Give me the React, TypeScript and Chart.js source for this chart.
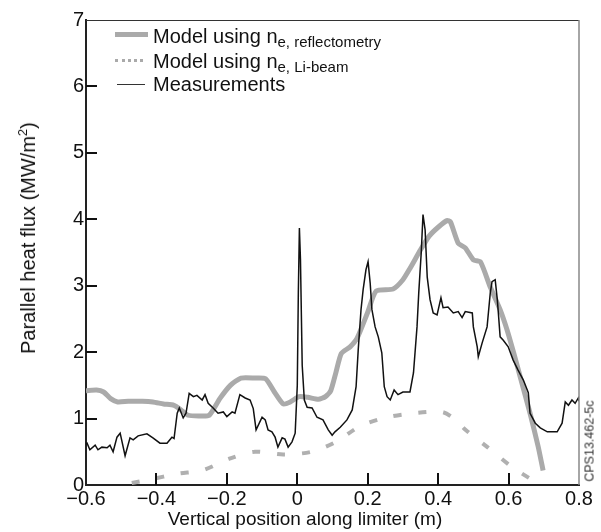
import React, { useEffect, useRef } from "react";
import { Chart, registerables } from "chart.js";

Chart.register(...registerables);

const FONT = "'Liberation Sans', Arial, Helvetica, sans-serif";

// x tick values and y tick values
const xTicks = [-0.6, -0.4, -0.2, 0, 0.2, 0.4, 0.6, 0.8];
const yTicks = [0, 1, 2, 3, 4, 5, 6, 7];

// Model using n_e, reflectometry
const reflX = [-0.6, -0.57, -0.55, -0.53, -0.51, -0.48, -0.44, -0.41, -0.38, -0.35, -0.33, -0.31, -0.28, -0.25, -0.22, -0.19, -0.16, -0.12, -0.09, -0.065, -0.04, -0.02, 0.005, 0.03, 0.06, 0.08, 0.095, 0.11, 0.125, 0.15, 0.17, 0.2, 0.224, 0.272, 0.3, 0.32, 0.35, 0.375, 0.4, 0.425, 0.435, 0.457, 0.477, 0.5, 0.52, 0.548, 0.576, 0.596, 0.615, 0.633, 0.661, 0.684, 0.698];
const reflY = [1.42, 1.43, 1.4, 1.3, 1.25, 1.26, 1.26, 1.25, 1.22, 1.2, 1.13, 1.05, 1.04, 1.05, 1.3, 1.5, 1.61, 1.61, 1.6, 1.4, 1.22, 1.25, 1.33, 1.32, 1.29, 1.33, 1.42, 1.7, 1.98, 2.08, 2.21, 2.6, 2.92, 2.95, 3.09, 3.26, 3.54, 3.75, 3.88, 3.98, 3.96, 3.64, 3.57, 3.39, 3.36, 2.98, 2.64, 2.33, 1.98, 1.63, 1.08, 0.58, 0.22];

// Model using n_e, Li-beam
const liX = [-0.47, -0.42, -0.34, -0.27, -0.19, -0.12, -0.04, 0.04, 0.11, 0.18, 0.255, 0.33, 0.41, 0.44, 0.48, 0.54, 0.61, 0.66, 0.69];
const liY = [0.03, 0.08, 0.17, 0.22, 0.4, 0.5, 0.46, 0.5, 0.65, 0.89, 1.02, 1.08, 1.1, 1.02, 0.82, 0.57, 0.27, 0.1, 0.0];

// Measurements
const measX = [-0.6, -0.597, -0.589, -0.574, -0.566, -0.555, -0.54, -0.532, -0.523, -0.512, -0.503, -0.489, -0.475, -0.466, -0.452, -0.427, -0.41, -0.39, -0.37, -0.356, -0.35, -0.341, -0.335, -0.324, -0.316, -0.307, -0.295, -0.285, -0.27, -0.262, -0.253, -0.239, -0.225, -0.21, -0.2, -0.185, -0.177, -0.163, -0.148, -0.134, -0.125, -0.117, -0.1, -0.091, -0.083, -0.072, -0.063, -0.055, -0.043, -0.035, -0.026, -0.015, -0.006, 0.0, 0.003, 0.006, 0.009, 0.014, 0.02, 0.028, 0.042, 0.056, 0.073, 0.088, 0.099, 0.107, 0.122, 0.141, 0.156, 0.167, 0.173, 0.181, 0.187, 0.195, 0.201, 0.207, 0.212, 0.221, 0.23, 0.24, 0.247, 0.255, 0.264, 0.275, 0.286, 0.3, 0.32, 0.33, 0.34, 0.345, 0.352, 0.357, 0.363, 0.369, 0.377, 0.386, 0.397, 0.408, 0.414, 0.428, 0.443, 0.457, 0.468, 0.477, 0.497, 0.5, 0.511, 0.514, 0.525, 0.539, 0.548, 0.553, 0.562, 0.568, 0.571, 0.576, 0.585, 0.599, 0.613, 0.627, 0.642, 0.656, 0.661, 0.676, 0.69, 0.71, 0.738, 0.752, 0.761, 0.77, 0.78, 0.789, 0.798, 0.8];
const measY = [0.62, 0.63, 0.53, 0.6, 0.53, 0.57, 0.56, 0.6, 0.5, 0.72, 0.78, 0.44, 0.71, 0.68, 0.74, 0.77, 0.71, 0.63, 0.63, 0.72, 0.7, 1.08, 1.16, 1.01, 1.08, 1.38, 1.33, 1.35, 1.28, 1.36, 1.23, 1.16, 1.08, 1.1, 1.03, 1.1, 1.08, 1.36, 1.31, 1.28, 1.15, 0.83, 1.02, 0.98, 0.83, 0.8, 0.72, 0.57, 0.71, 0.69, 0.57, 0.65, 0.78, 1.5, 2.9, 3.87, 3.4, 1.8, 1.28, 1.17, 1.16, 1.02, 0.98, 0.83, 0.75, 0.8, 0.87, 0.98, 1.13, 1.48, 2.03, 2.64, 2.94, 3.24, 3.36, 3.04, 2.64, 2.38, 2.23, 1.99, 1.48, 1.33, 1.28, 1.43, 1.36, 1.4, 1.4, 1.69, 2.38, 2.9, 3.5, 4.07, 3.84, 3.13, 2.79, 2.59, 2.56, 2.82, 2.67, 2.68, 2.59, 2.61, 2.52, 2.61, 2.59, 2.38, 2.08, 1.93, 2.14, 2.38, 2.89, 3.06, 3.09, 2.79, 2.59, 2.23, 2.18, 2.08, 1.88, 1.73, 1.58, 1.39, 1.08, 0.93, 0.86, 0.8, 0.8, 0.93, 1.25, 1.2, 1.28, 1.23, 1.31, 1.26];

const toXY = (xs: number[], ys: number[]) => xs.map((x, i) => ({ x, y: ys[i] }));

const fmtX = (v: number) => {
  if (Math.abs(v) < 1e-9) return "0";
  const s = Math.abs(v).toFixed(1);
  return v < 0 ? "\u2212" + s : s;
};

const framePlugin = {
  id: "frame",
  afterDatasetsDraw(chart: any) {
    const { ctx, chartArea: a, scales } = chart;
    ctx.save();
    ctx.strokeStyle = "#111";
    ctx.lineWidth = 2;
    for (const v of xTicks.slice(1, -1)) {
      const px = Math.round(scales.x.getPixelForValue(v));
      ctx.beginPath();
      ctx.moveTo(px, a.bottom);
      ctx.lineTo(px, a.bottom - 12);
      ctx.stroke();
    }
    for (const v of yTicks.slice(1, -1)) {
      const py = Math.round(scales.y.getPixelForValue(v));
      ctx.beginPath();
      ctx.moveTo(a.left, py);
      ctx.lineTo(a.left + 11, py);
      ctx.stroke();
    }
    ctx.lineWidth = 1.2;
    ctx.strokeStyle = "#333";
    ctx.beginPath();
    ctx.moveTo(a.left, a.top + 0.5);
    ctx.lineTo(a.right, a.top + 0.5);
    ctx.stroke();
    ctx.strokeStyle = "#888";
    ctx.lineWidth = 1.5;
    ctx.beginPath();
    ctx.moveTo(a.right, a.top);
    ctx.lineTo(a.right, a.bottom);
    ctx.stroke();
    ctx.restore();
  },
};

export default function App() {
  const ref = useRef<HTMLCanvasElement | null>(null);

  useEffect(() => {
    if (!ref.current) return;
    Chart.defaults.font.family = FONT;
    const chart = new Chart(ref.current, {
      type: "line",
      data: {
        datasets: [
          {
            label: "Measurements",
            data: toXY(measX, measY),
            borderColor: "#111",
            borderWidth: 1.5,
            pointRadius: 0,
            tension: 0,
            order: 0,
          },
          {
            label: "Model using ne, reflectometry",
            data: toXY(reflX, reflY),
            borderColor: "#aaaaaa",
            borderWidth: 5,
            pointRadius: 0,
            tension: 0.2,
            order: 1,
          },
          {
            label: "Model using ne, Li-beam",
            data: toXY(liX, liY),
            borderColor: "#b0b0b0",
            borderWidth: 4,
            borderDash: [8, 17],
            pointRadius: 0,
            tension: 0.3,
            order: 2,
          },
        ],
      },
      options: {
        animation: false,
        responsive: true,
        maintainAspectRatio: false,
        layout: { padding: { left: 0, top: 20, right: 22, bottom: 0 } },
        plugins: { legend: { display: false }, tooltip: { enabled: false } },
        scales: {
          x: {
            type: "linear",
            min: -0.6,
            max: 0.8,
            afterBuildTicks: (s: any) => {
              s.ticks = xTicks.map((v) => ({ value: v }));
            },
            afterFit: (s: any) => {
              s.height = 47;
            },
            grid: { display: false, drawTicks: false },
            border: { display: true, color: "#222", width: 2 },
            ticks: {
              color: "#111",
              font: { size: 20, family: FONT },
              padding: 2,
              maxRotation: 0,
              autoSkip: false,
              callback: (v: any) => fmtX(Number(v)),
            },
            title: { display: false },
          },
          y: {
            type: "linear",
            min: 0,
            max: 7,
            afterBuildTicks: (s: any) => {
              s.ticks = yTicks.map((v) => ({ value: v }));
            },
            afterFit: (s: any) => {
              s.width = 86;
            },
            grid: { display: false, drawTicks: false },
            border: { display: true, color: "#222", width: 2 },
            ticks: {
              color: "#111",
              font: { size: 20, family: FONT },
              padding: 2,
              autoSkip: false,
              callback: (v: any) => String(Math.round(Number(v))),
            },
            title: { display: false },
          },
        },
      },
      plugins: [framePlugin],
    } as any);
    return () => chart.destroy();
  }, []);

  const textStyle: React.CSSProperties = {
    position: "absolute",
    left: 153,
    fontFamily: FONT,
    fontSize: 20,
    lineHeight: "20px",
    color: "#111",
    whiteSpace: "nowrap",
  };
  const subStyle: React.CSSProperties = {
    fontSize: 15,
    position: "relative",
    top: 4,
  };
  const centered = (x: number, y: number, rot: number, size: number, color: string): React.CSSProperties => ({
    position: "absolute",
    left: x,
    top: y,
    transform: `translate(-50%, -50%) rotate(${rot}deg)`,
    fontFamily: FONT,
    fontSize: size,
    lineHeight: `${Math.round(size * 1.2)}px`,
    color,
    whiteSpace: "nowrap",
  });

  return (
    <div style={{ position: "fixed", left: 0, top: 0, width: 601, height: 532, background: "#fff" }}>
      <canvas ref={ref} />
      <div style={{ position: "absolute", left: 115, top: 32, width: 33, height: 5, background: "#aaaaaa" }} />
      <div style={{ ...textStyle, top: 26 }}>
        Model using n<span style={subStyle}>e, reflectometry</span>
      </div>
      <div style={{ position: "absolute", left: 115, top: 59, width: 28, height: 0, borderTop: "3px dotted #aaaaaa" }} />
      <div style={{ ...textStyle, top: 51 }}>
        Model using n<span style={subStyle}>e, Li-beam</span>
      </div>
      <div style={{ position: "absolute", left: 117, top: 84, width: 28, height: 1, background: "#333" }} />
      <div style={{ ...textStyle, top: 74 }}>Measurements</div>
      <div style={centered(305, 518, 0, 19, "#111")}>Vertical position along limiter (m)</div>
      <div style={centered(28, 238, -90, 20, "#111")}>
        Parallel heat flux (MW/m<sup style={{ fontSize: 13, lineHeight: 0 }}>2</sup>)
      </div>
      <div style={centered(590, 441, -90, 12.5, "#333")}>CPS13.462-5c</div>
    </div>
  );
}
